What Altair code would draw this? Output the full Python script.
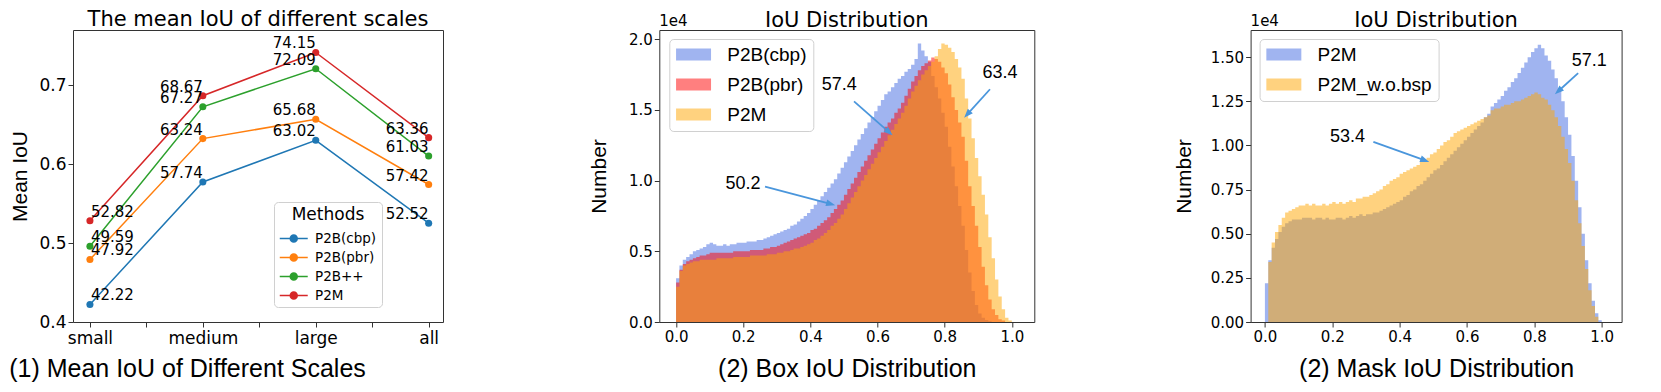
import math
import altair as alt
import pandas as pd

# ---------------- panel 1: mean IoU per object scale ----------------
scales = ["small", "medium", "large", "all"]
methods = ["P2B(cbp)", "P2B(pbr)", "P2B++", "P2M"]
miou_cbp = [42.22, 57.74, 63.02, 52.52]
miou_pbr = [47.92, 63.24, 65.68, 57.42]
miou_ppp = [49.59, 67.27, 72.09, 61.03]
miou_p2m = [52.82, 68.67, 74.15, 63.36]
line_colors = ["#1f77b4", "#ff7f0e", "#2ca02c", "#d62728"]

# ---------------- panel 2: box IoU histograms (100 bins, counts in 1e4) ----------------
box_series = ["P2B(cbp)", "P2B(pbr)", "P2M"]
box_colors = ["#4169e1", "#ff0000", "#ffa500"]
box_cbp = [0.31, 0.40, 0.44, 0.46, 0.48, 0.50, 0.51, 0.52, 0.53, 0.55,
           0.56, 0.55, 0.54, 0.54, 0.55, 0.54, 0.55, 0.55, 0.56, 0.56,
           0.56, 0.57, 0.57, 0.57, 0.58, 0.58, 0.59, 0.60, 0.61, 0.62,
           0.63, 0.64, 0.65, 0.66, 0.68, 0.69, 0.71, 0.73, 0.75, 0.77,
           0.80, 0.83, 0.86, 0.89, 0.92, 0.95, 0.98, 1.01, 1.05, 1.09,
           1.13, 1.17, 1.21, 1.25, 1.29, 1.33, 1.37, 1.41, 1.45, 1.49,
           1.53, 1.57, 1.61, 1.63, 1.66, 1.69, 1.72, 1.74, 1.77, 1.79,
           1.82, 1.86, 1.97, 1.92, 1.88, 1.84, 1.74, 1.66, 1.58, 1.48,
           1.38, 1.24, 1.10, 0.96, 0.82, 0.68, 0.51, 0.35, 0.22, 0.12,
           0.06, 0.03, 0.015, 0.005, 0.0, 0.0, 0.0, 0.0, 0.0, 0.0]
box_pbr = [0.28, 0.37, 0.41, 0.43, 0.44, 0.45, 0.46, 0.47, 0.47, 0.48,
           0.49, 0.49, 0.49, 0.49, 0.49, 0.49, 0.49, 0.50, 0.50, 0.50,
           0.50, 0.50, 0.51, 0.51, 0.51, 0.51, 0.52, 0.52, 0.53, 0.53,
           0.54, 0.55, 0.56, 0.57, 0.58, 0.59, 0.60, 0.61, 0.62, 0.63,
           0.65, 0.66, 0.68, 0.70, 0.72, 0.74, 0.77, 0.80, 0.83, 0.86,
           0.90, 0.94, 0.98, 1.02, 1.06, 1.10, 1.14, 1.18, 1.22, 1.26,
           1.30, 1.34, 1.38, 1.41, 1.44, 1.48, 1.51, 1.55, 1.60, 1.65,
           1.70, 1.74, 1.78, 1.81, 1.83, 1.85, 1.87, 1.86, 1.84, 1.80,
           1.76, 1.68, 1.59, 1.50, 1.41, 1.31, 1.14, 0.96, 0.82, 0.68,
           0.53, 0.39, 0.26, 0.16, 0.09, 0.05, 0.02, 0.01, 0.0, 0.0]
box_p2m = [0.25, 0.36, 0.40, 0.41, 0.42, 0.43, 0.43, 0.44, 0.44, 0.44,
           0.44, 0.44, 0.45, 0.45, 0.45, 0.45, 0.45, 0.46, 0.46, 0.46,
           0.46, 0.46, 0.47, 0.47, 0.47, 0.47, 0.47, 0.48, 0.48, 0.48,
           0.49, 0.49, 0.50, 0.50, 0.51, 0.52, 0.52, 0.53, 0.54, 0.55,
           0.56, 0.58, 0.59, 0.61, 0.63, 0.65, 0.68, 0.70, 0.73, 0.76,
           0.80, 0.84, 0.88, 0.92, 0.96, 1.00, 1.04, 1.08, 1.12, 1.16,
           1.20, 1.24, 1.28, 1.32, 1.36, 1.40, 1.44, 1.48, 1.53, 1.58,
           1.63, 1.67, 1.71, 1.75, 1.78, 1.81, 1.84, 1.88, 1.93, 1.97,
           1.96, 1.94, 1.91, 1.86, 1.80, 1.72, 1.58, 1.44, 1.30, 1.16,
           1.03, 0.90, 0.76, 0.60, 0.45, 0.30, 0.18, 0.09, 0.03, 0.01]

# ---------------- panel 3: mask IoU histograms ----------------
mask_series = ["P2M", "P2M_w.o.bsp"]
mask_colors = ["#4169e1", "#ffa500"]
mask_p2m = [0.22, 0.35, 0.42, 0.47, 0.51, 0.54, 0.56, 0.57, 0.58, 0.58,
            0.58, 0.59, 0.59, 0.59, 0.58, 0.59, 0.59, 0.58, 0.59, 0.58,
            0.58, 0.59, 0.59, 0.58, 0.59, 0.60, 0.59, 0.60, 0.61, 0.60,
            0.61, 0.61, 0.62, 0.62, 0.63, 0.64, 0.65, 0.66, 0.67, 0.68,
            0.69, 0.71, 0.72, 0.74, 0.75, 0.77, 0.78, 0.80, 0.82, 0.84,
            0.86, 0.87, 0.89, 0.91, 0.93, 0.95, 0.97, 0.99, 1.01, 1.03,
            1.05, 1.07, 1.09, 1.11, 1.13, 1.16, 1.18, 1.22, 1.24, 1.26,
            1.28, 1.31, 1.33, 1.36, 1.38, 1.41, 1.44, 1.47, 1.50, 1.53,
            1.55, 1.57, 1.55, 1.51, 1.48, 1.43, 1.38, 1.32, 1.25, 1.16,
            1.06, 0.94, 0.80, 0.65, 0.50, 0.35, 0.22, 0.12, 0.05, 0.01]
mask_wobsp = [0.0, 0.34, 0.45, 0.51, 0.55, 0.59, 0.62, 0.63, 0.64, 0.65,
              0.66, 0.66, 0.67, 0.66, 0.67, 0.66, 0.66, 0.67, 0.66, 0.67,
              0.68, 0.67, 0.68, 0.67, 0.68, 0.69, 0.68, 0.70, 0.70, 0.71,
              0.71, 0.72, 0.73, 0.74, 0.75, 0.77, 0.78, 0.80, 0.81, 0.82,
              0.84, 0.85, 0.86, 0.87, 0.88, 0.89, 0.91, 0.92, 0.93, 0.95,
              0.96, 0.98, 1.00, 1.02, 1.03, 1.05, 1.07, 1.08, 1.09, 1.10,
              1.11, 1.12, 1.13, 1.14, 1.15, 1.16, 1.17, 1.20, 1.21, 1.21,
              1.22, 1.23, 1.23, 1.24, 1.25, 1.25, 1.26, 1.27, 1.28, 1.29,
              1.30, 1.29, 1.27, 1.26, 1.23, 1.20, 1.16, 1.11, 1.05, 0.98,
              0.90, 0.80, 0.69, 0.56, 0.43, 0.30, 0.18, 0.09, 0.03, 0.0]
bin_width = 0.01

# annotations: label, text x, text y, arrow start x, y, arrow end x, y
box_notes = [("50.2", 0.199, 0.974, 0.265, 0.958, 0.474, 0.826),
             ("57.4", 0.486, 1.676, 0.530, 1.560, 0.645, 1.320),
             ("63.4", 0.965, 1.760, 0.935, 1.646, 0.858, 1.444)]
mask_notes = [("57.1", 0.963, 1.478, 0.930, 1.410, 0.861, 1.290),
              ("53.4", 0.245, 1.046, 0.322, 1.020, 0.488, 0.907)]
arrow_color = "#4a96dc"

# ---------------- layout / style ----------------
W1, W2, W3, H = 370, 375, 371, 292
SPACING = 216.3
X1_DOM = [-0.15, 3.127]
Y1_DOM = [0.4, 0.77]
X2_DOM = [-0.05, 1.067]
Y2_DOM = [0.0, 2.065]
X3_DOM = [-0.0425, 1.059]
Y3_DOM = [0.0, 1.654]
DV = "DejaVu Sans"
LS = "Liberation Sans"

LINE_DOT = "M-1,0H2.2M1,0A0.4,0.4,0,1,1,0.2,0A0.4,0.4,0,1,1,1,0Z"
RECT = "M-1,-0.686H3V0.686H-1Z"
HEAD = "M0,0L-0.42,1.15L0.42,1.15Z"

# ---------- panel 1 ----------
rows = []
for m, vals in zip(methods, [miou_cbp, miou_pbr, miou_ppp, miou_p2m]):
    for i, (s, v) in enumerate(zip(scales, vals)):
        rows.append({"pos": i, "scale": s, "method": m, "miou": v / 100.0,
                     "label": f"{v:.2f}"})
df1 = pd.DataFrame(rows)

lbl_expr = " : ".join(f"datum.value == {i} ? '{s}'" for i, s in enumerate(scales)) + " : ''"

x1 = alt.X("pos:Q", scale=alt.Scale(domain=X1_DOM, nice=False, zero=False),
           axis=alt.Axis(values=[0, 0.5, 1, 1.5, 2, 2.5, 3], labelExpr=lbl_expr,
                         labelFont=DV, labelFontSize=17, labelPadding=3,
                         title="(1) Mean IoU of Different Scales", titleFont=LS,
                         titleFontSize=25, titleX=114, titleAlign="center",
                         titlePadding=10))
y1 = alt.Y("miou:Q", scale=alt.Scale(domain=Y1_DOM, nice=False, zero=False),
           axis=alt.Axis(values=[0.4, 0.5, 0.6, 0.7], format=".1f",
                         labelFont=DV, labelFontSize=17,
                         title="Mean IoU", titleFont=LS, titleFontSize=21,
                         titlePadding=8))
mscale = alt.Scale(domain=methods, range=line_colors)
leg1 = alt.Legend(title="Methods", orient="none", legendX=201, legendY=172,
                  symbolType=LINE_DOT, symbolSize=306, symbolStrokeWidth=1.5,
                  labelFont=DV, labelFontSize=13.5, labelColor="black",
                  titleFont=DV, titleFontSize=17, titleFontWeight="normal",
                  titleColor="black", titleAnchor="middle", titlePadding=5,
                  fillColor="white", strokeColor="#d0d0d0", cornerRadius=4,
                  padding=5, rowPadding=3, labelOffset=17, zindex=0)

base1 = alt.Chart(df1)
lines1 = base1.mark_line(strokeWidth=1.5).encode(
    x=x1, y=y1, color=alt.Color("method:N", scale=mscale, legend=leg1),
    order="pos:Q")
points1 = base1.mark_point(filled=True, size=50, opacity=1, strokeWidth=0).encode(
    x=x1, y=y1, fill=alt.Fill("method:N", scale=mscale, legend=leg1))
txt_left = base1.transform_filter("datum.pos == 0").mark_text(
    align="left", baseline="alphabetic", dx=1, dy=-4, font=DV, fontSize=15,
    color="black").encode(x=x1, y=y1, text="label:N")
txt_right = base1.transform_filter("datum.pos > 0").mark_text(
    align="right", baseline="alphabetic", dx=0, dy=-4, font=DV, fontSize=15,
    color="black").encode(x=x1, y=y1, text="label:N")

p1 = alt.layer(lines1, points1, txt_left, txt_right).properties(
    width=W1, height=H,
    title=alt.Title("The mean IoU of different scales", font=DV, fontSize=21,
                    fontWeight="normal", color="black", offset=0))


# ---------- histogram panels ----------
def hist_frame(name, vals):
    xs = [i * bin_width for i in range(len(vals))] + [len(vals) * bin_width]
    ys = list(vals) + [vals[-1]]
    return pd.DataFrame({"iou": xs, "count": ys, "series": name})


def arrow_frames(notes, xdom, ydom, w, h):
    sx = w / (xdom[1] - xdom[0])
    sy = h / (ydom[1] - ydom[0])
    recs = []
    for lab, tx, ty, ax1, ay1, ax2, ay2 in notes:
        dx = (ax2 - ax1) * sx
        dy = -(ay2 - ay1) * sy
        ln = math.hypot(dx, dy)
        ang = math.degrees(math.atan2(dx, -dy)) % 360
        bx = ax2 - (dx / ln) * 6 / sx
        by = ay2 + (dy / ln) * 6 / sy
        recs.append({"label": lab, "tx": tx, "ty": ty, "x1": ax1, "y1": ay1,
                     "x2": bx, "y2": by, "hx": ax2, "hy": ay2, "ang": ang})
    return pd.DataFrame(recs)


def hist_panel(series, colors, values, notes, xdom, ydom, w, yticks, yfmt,
               caption, leg_x, leg_y, ytitle_pad):
    xs = alt.Scale(domain=xdom, nice=False, zero=False)
    ys = alt.Scale(domain=ydom, nice=False, zero=False)
    xax = alt.Axis(values=[0, 0.2, 0.4, 0.6, 0.8, 1.0], format=".1f",
                   labelFont=DV, labelFontSize=15, labelPadding=2,
                   title=caption, titleFont=LS, titleFontSize=25, titlePadding=12)
    yax = alt.Axis(values=yticks, format=yfmt, labelFont=DV, labelFontSize=15,
                   title="Number", titleFont=LS, titleFontSize=21,
                   titlePadding=ytitle_pad)
    cscale = alt.Scale(domain=series, range=colors)
    leg = alt.Legend(title=None, orient="none", legendX=leg_x, legendY=leg_y,
                     symbolType=RECT, symbolSize=306, symbolStrokeWidth=0,
                     labelFont=LS, labelFontSize=19, labelColor="black",
                     labelOffset=33, padding=6, rowPadding=10,
                     fillColor="white", strokeColor="#d0d0d0", cornerRadius=4)
    layers = []
    for name, vals in zip(series, values):
        layers.append(
            alt.Chart(hist_frame(name, vals)).mark_area(
                interpolate="step-after", opacity=0.5).encode(
                x=alt.X("iou:Q", scale=xs, axis=xax),
                y=alt.Y("count:Q", scale=ys, axis=yax),
                color=alt.Color("series:N", scale=cscale, legend=leg)))
    adf = arrow_frames(notes, xdom, ydom, w, H)
    ab = alt.Chart(adf)
    shafts = ab.mark_rule(color=arrow_color, strokeWidth=1.8).encode(
        x=alt.X("x1:Q", scale=xs), y=alt.Y("y1:Q", scale=ys),
        x2="x2:Q", y2="y2:Q")
    heads = ab.mark_point(shape=HEAD, filled=True, size=256, opacity=1,
                          color=arrow_color, strokeWidth=0).encode(
        x=alt.X("hx:Q", scale=xs), y=alt.Y("hy:Q", scale=ys),
        angle=alt.Angle("ang:Q", scale=None))
    texts = ab.mark_text(font=LS, fontSize=18, color="black",
                         align="center", baseline="middle").encode(
        x=alt.X("tx:Q", scale=xs), y=alt.Y("ty:Q", scale=ys), text="label:N")
    off = alt.Chart(pd.DataFrame({"t": ["1e4"]})).mark_text(
        align="left", baseline="alphabetic", font=DV, fontSize=15,
        color="black").encode(x=alt.value(0), y=alt.value(-4), text="t:N")
    return alt.layer(*layers, shafts, heads, texts, off).properties(
        width=w, height=H,
        title=alt.Title("IoU Distribution", font=DV, fontSize=21,
                        fontWeight="normal", color="black", offset=0, dy=17))


p2 = hist_panel(box_series, box_colors, [box_cbp, box_pbr, box_p2m], box_notes,
                X2_DOM, Y2_DOM, W2, [0, 0.5, 1.0, 1.5, 2.0], ".1f",
                "(2) Box IoU Distribution", 10, 9, 19)
p3 = hist_panel(mask_series, mask_colors, [mask_p2m, mask_wobsp], mask_notes,
                X3_DOM, Y3_DOM, W3, [0, 0.25, 0.5, 0.75, 1.0, 1.25, 1.5], ".2f",
                "(2) Mask IoU Distribution", 9, 9, 16)

chart = alt.hconcat(p1, p2, p3, spacing=SPACING, bounds="flush").resolve_scale(
    x="independent", y="independent", color="independent", fill="independent"
).properties(
    padding={"left": 0, "top": 0, "right": 0, "bottom": 0}
).configure_view(stroke="#333333", strokeWidth=1).configure_axis(
    domain=False, grid=False, tickColor="#333333", tickSize=5, tickWidth=1,
    labelColor="black", titleColor="black", titleFontWeight="normal")

chart.save("out.html", embed_options={"renderer": "svg", "actions": False})
